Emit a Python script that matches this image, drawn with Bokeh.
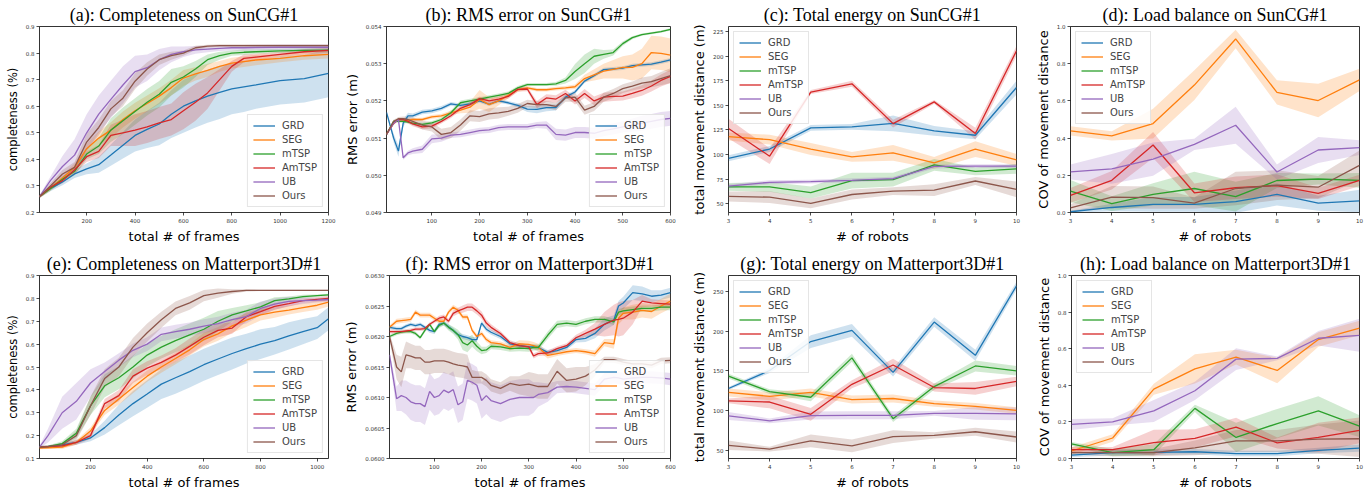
import numpy as np
from bokeh.plotting import figure
from bokeh.layouts import row, column
from bokeh.models import Legend, LegendItem, FixedTicker, NumeralTickFormatter, Range1d
from bokeh.embed import file_html
from bokeh.resources import INLINE

METHODS = ["GRD", "SEG", "mTSP", "AmTSP", "UB", "Ours"]
COLORS = ["#1f77b4", "#ff7f0e", "#2ca02c", "#d62728", "#9467bd", "#8c564b"]
ROBOTS = [3, 4, 5, 6, 7, 8, 9, 10]

# ---------------- (a) Completeness on SunCG#1 ----------------
A_X = [5, 50, 100, 150, 200, 250, 300, 350, 400, 450, 500, 550, 600, 650, 700, 750, 800, 850, 900, 1000, 1100, 1200]
A_GRD = [0.260, 0.290, 0.315, 0.345, 0.364, 0.380, 0.416, 0.453, 0.490, 0.513, 0.533, 0.570, 0.600, 0.620, 0.638, 0.652, 0.665, 0.673, 0.680, 0.696, 0.704, 0.724]
A_GRD_B = [0.005, 0.010, 0.012, 0.015, 0.020, 0.030, 0.040, 0.050, 0.060, 0.070, 0.080, 0.090, 0.100, 0.100, 0.100, 0.100, 0.095, 0.095, 0.090, 0.090, 0.090, 0.090]
A_SEG = [0.260, 0.290, 0.330, 0.370, 0.440, 0.480, 0.510, 0.550, 0.583, 0.610, 0.638, 0.670, 0.706, 0.722, 0.735, 0.750, 0.762, 0.768, 0.774, 0.780, 0.790, 0.795]
A_SEG_B = [0.005, 0.008, 0.010, 0.015, 0.020, 0.025, 0.030, 0.030, 0.030, 0.030, 0.030, 0.030, 0.030, 0.025, 0.025, 0.020, 0.020, 0.020, 0.020, 0.015, 0.015, 0.015]
A_MTSP = [0.260, 0.290, 0.325, 0.355, 0.420, 0.450, 0.510, 0.545, 0.580, 0.615, 0.645, 0.690, 0.710, 0.740, 0.775, 0.790, 0.800, 0.803, 0.805, 0.808, 0.810, 0.811]
A_MTSP_B = [0.005, 0.008, 0.010, 0.015, 0.020, 0.030, 0.045, 0.050, 0.050, 0.050, 0.050, 0.050, 0.040, 0.030, 0.020, 0.015, 0.010, 0.010, 0.008, 0.008, 0.008, 0.008]
A_AMTSP = [0.260, 0.295, 0.320, 0.360, 0.410, 0.430, 0.490, 0.500, 0.510, 0.522, 0.537, 0.550, 0.583, 0.615, 0.650, 0.700, 0.750, 0.780, 0.785, 0.795, 0.805, 0.810]
A_AMTSP_B = [0.005, 0.008, 0.010, 0.015, 0.020, 0.025, 0.040, 0.050, 0.060, 0.060, 0.060, 0.060, 0.070, 0.070, 0.060, 0.040, 0.020, 0.015, 0.012, 0.010, 0.010, 0.010]
A_UB = [0.260, 0.320, 0.373, 0.416, 0.500, 0.570, 0.626, 0.680, 0.730, 0.745, 0.775, 0.795, 0.805, 0.812, 0.815, 0.818, 0.820, 0.820, 0.821, 0.822, 0.822, 0.822]
A_UB_B = [0.005, 0.015, 0.040, 0.060, 0.070, 0.070, 0.070, 0.070, 0.060, 0.050, 0.040, 0.030, 0.020, 0.015, 0.012, 0.010, 0.010, 0.010, 0.010, 0.010, 0.010, 0.010]
A_OURS = [0.260, 0.300, 0.345, 0.370, 0.465, 0.520, 0.590, 0.630, 0.694, 0.740, 0.775, 0.790, 0.800, 0.820, 0.826, 0.828, 0.828, 0.828, 0.828, 0.828, 0.828, 0.828]
A_OURS_B = [0.005, 0.010, 0.015, 0.020, 0.030, 0.030, 0.030, 0.030, 0.030, 0.025, 0.020, 0.015, 0.010, 0.008, 0.005, 0.005, 0.005, 0.005, 0.005, 0.005, 0.005, 0.005]

# ---------------- (b) RMS error on SunCG#1 ----------------
B_X = [5, 20, 30, 40, 50, 60, 80, 100, 120, 140, 160, 180, 200, 220, 240, 260, 280, 300, 320, 340, 360, 380, 400, 420, 440, 460, 480, 500, 520, 540, 560, 580, 600]
B_GRD = [0.05169, 0.05100, 0.05065, 0.05140, 0.05160, 0.05160, 0.05170,
         0.05173, 0.05180, 0.05192, 0.05188, 0.05192, 0.05200, 0.05191, 0.05200, 0.05195, 0.05188,
         0.05178, 0.05177, 0.05182, 0.05182, 0.05210, 0.05224, 0.05253, 0.05268, 0.05284, 0.05286,
         0.05288, 0.05295, 0.05297, 0.05299, 0.05304, 0.05310]
B_GRD_B = [0.00002, 0.00012, 0.00015, 0.00010, 0.00008, 0.00006, 0.00006,
           0.00006, 0.00006, 0.00005, 0.00005, 0.00005, 0.00005, 0.00005, 0.00005, 0.00005, 0.00006,
           0.00008, 0.00010, 0.00010, 0.00008, 0.00006, 0.00005, 0.00005, 0.00005, 0.00005, 0.00005,
           0.00005, 0.00005, 0.00005, 0.00005, 0.00005, 0.00005]
B_SEG = [0.05112, 0.05140, 0.05151, 0.05150, 0.05148, 0.05150, 0.05150,
         0.05157, 0.05160, 0.05168, 0.05175, 0.05183, 0.05204, 0.05190, 0.05200, 0.05215, 0.05230,
         0.05235, 0.05230, 0.05230, 0.05233, 0.05235, 0.05238, 0.05260, 0.05270, 0.05280, 0.05285,
         0.05290, 0.05290, 0.05300, 0.05330, 0.05328, 0.05323]
B_SEG_B = [0.00003, 0.00004, 0.00004, 0.00004, 0.00004, 0.00005, 0.00005,
           0.00005, 0.00005, 0.00006, 0.00008, 0.00015, 0.00025, 0.00020, 0.00012, 0.00008, 0.00006,
           0.00005, 0.00005, 0.00005, 0.00005, 0.00005, 0.00006, 0.00010, 0.00015, 0.00020, 0.00025,
           0.00030, 0.00035, 0.00040, 0.00045, 0.00045, 0.00045]
B_MTSP = [0.05110, 0.05145, 0.05145, 0.05145, 0.05143, 0.05140, 0.05137,
          0.05141, 0.05150, 0.05168, 0.05195, 0.05200, 0.05205, 0.05210, 0.05215, 0.05220, 0.05235,
          0.05244, 0.05244, 0.05244, 0.05246, 0.05255, 0.05279, 0.05300, 0.05320, 0.05325, 0.05330,
          0.05354, 0.05370, 0.05378, 0.05382, 0.05386, 0.05392]
B_MTSP_B = [0.00003, 0.00004, 0.00004, 0.00004, 0.00004, 0.00004, 0.00004,
            0.00005, 0.00005, 0.00006, 0.00006, 0.00006, 0.00005, 0.00005, 0.00005, 0.00005, 0.00005,
            0.00004, 0.00004, 0.00004, 0.00005, 0.00008, 0.00020, 0.00025, 0.00020, 0.00012, 0.00008,
            0.00006, 0.00004, 0.00003, 0.00003, 0.00003, 0.00003]
B_AMTSP = [0.05110, 0.05140, 0.05150, 0.05150, 0.05145, 0.05138, 0.05130,
           0.05132, 0.05145, 0.05160, 0.05180, 0.05190, 0.05206, 0.05200, 0.05205, 0.05212, 0.05231,
           0.05232, 0.05190, 0.05208, 0.05205, 0.05220, 0.05200, 0.05220, 0.05200, 0.05210, 0.05212,
           0.05213, 0.05220, 0.05228, 0.05240, 0.05255, 0.05266]
B_AMTSP_B = [0.00003, 0.00004, 0.00004, 0.00005, 0.00006, 0.00006, 0.00006,
             0.00006, 0.00006, 0.00006, 0.00006, 0.00006, 0.00006, 0.00006, 0.00006, 0.00006, 0.00006,
             0.00006, 0.00010, 0.00010, 0.00010, 0.00010, 0.00010, 0.00012, 0.00012, 0.00012, 0.00012,
             0.00012, 0.00013, 0.00014, 0.00015, 0.00016, 0.00018]
B_UB = [0.05110, 0.05140, 0.05150, 0.05047, 0.05060, 0.05065, 0.05070,
        0.05098, 0.05100, 0.05108, 0.05110, 0.05115, 0.05120, 0.05122, 0.05128, 0.05130, 0.05130,
        0.05130, 0.05135, 0.05135, 0.05110, 0.05108, 0.05115, 0.05115, 0.05113, 0.05120, 0.05125,
        0.05130, 0.05135, 0.05140, 0.05145, 0.05150, 0.05153]
B_UB_B = [0.00003, 0.00004, 0.00004, 0.00005, 0.00006, 0.00008, 0.00010,
          0.00012, 0.00010, 0.00008, 0.00008, 0.00008, 0.00008, 0.00008, 0.00008, 0.00008, 0.00008,
          0.00008, 0.00008, 0.00010, 0.00015, 0.00015, 0.00015, 0.00015, 0.00015, 0.00015, 0.00015,
          0.00015, 0.00018, 0.00020, 0.00020, 0.00020, 0.00020]
B_OURS = [0.05110, 0.05145, 0.05152, 0.05152, 0.05150, 0.05145, 0.05135,
          0.05130, 0.05110, 0.05115, 0.05135, 0.05160, 0.05158, 0.05165, 0.05168, 0.05172, 0.05180,
          0.05193, 0.05190, 0.05190, 0.05185, 0.05208, 0.05210, 0.05175, 0.05185, 0.05210, 0.05220,
          0.05233, 0.05240, 0.05248, 0.05252, 0.05260, 0.05268]
B_OURS_B = [0.00003, 0.00004, 0.00005, 0.00006, 0.00008, 0.00010, 0.00012,
            0.00012, 0.00015, 0.00015, 0.00015, 0.00015, 0.00015, 0.00015, 0.00015, 0.00012, 0.00012,
            0.00010, 0.00010, 0.00010, 0.00010, 0.00010, 0.00012, 0.00012, 0.00012, 0.00012, 0.00012,
            0.00012, 0.00012, 0.00015, 0.00015, 0.00018, 0.00020]

# ---------------- (c) Total energy on SunCG#1 ----------------
C_GRD = [96.1, 105.5, 127.0, 128.0, 131.6, 124.0, 119.5, 168.0]
C_GRD_B = [3, 3, 3, 3, 8, 5, 4, 7]
C_SEG = [118.2, 115.0, 105.5, 97.5, 101.5, 91.5, 105.5, 94.5]
C_SEG_B = [4, 5, 6, 5, 8, 6, 8, 6]
C_MTSP = [67.0, 67.0, 61.3, 73.4, 74.4, 89.4, 82.8, 85.4]
C_MTSP_B = [4, 5, 6, 8, 7, 6, 4, 5]
C_AMTSP = [126.3, 98.2, 163.4, 171.8, 131.3, 153.4, 121.2, 205.3]
C_AMTSP_B = [10, 8, 2, 3, 4, 2, 6, 5]
C_UB = [67.7, 71.7, 72.4, 73.7, 75.4, 87.8, 88.1, 88.1]
C_UB_B = [2, 2, 2, 2, 2, 2, 2, 2]
C_OURS = [57.3, 56.6, 50.3, 59.3, 62.7, 63.7, 73.0, 64.4]
C_OURS_B = [5, 6, 5, 5, 4, 6, 4, 8]

# ---------------- (d) Load balance on SunCG#1 ----------------
D_GRD = [0.004, 0.027, 0.044, 0.044, 0.058, 0.097, 0.050, 0.062]
D_GRD_B = [0.005, 0.02, 0.04, 0.04, 0.06, 0.06, 0.04, 0.06]
D_SEG = [0.439, 0.412, 0.478, 0.685, 0.933, 0.646, 0.602, 0.713]
D_SEG_B = [0.025, 0.025, 0.08, 0.08, 0.05, 0.065, 0.09, 0.06]
D_MTSP = [0.115, 0.048, 0.097, 0.129, 0.085, 0.172, 0.180, 0.173]
D_MTSP_B = [0.06, 0.04, 0.06, 0.09, 0.08, 0.04, 0.03, 0.04]
D_AMTSP = [0.092, 0.173, 0.363, 0.106, 0.133, 0.145, 0.103, 0.173]
D_AMTSP_B = [0.04, 0.05, 0.07, 0.05, 0.06, 0.06, 0.03, 0.03]
D_UB = [0.218, 0.234, 0.287, 0.366, 0.469, 0.218, 0.336, 0.349]
D_UB_B = [0.04, 0.08, 0.09, 0.03, 0.10, 0.04, 0.07, 0.04]
D_OURS = [0.025, 0.083, 0.080, 0.050, 0.129, 0.147, 0.136, 0.253]
D_OURS_B = [0.02, 0.06, 0.06, 0.03, 0.09, 0.08, 0.06, 0.08]

# ---------------- (e) Completeness on Matterport3D#1 ----------------
E_X = [20, 50, 100, 150, 200, 250, 300, 350, 400, 450, 500, 550, 600, 650, 700, 750, 800, 850, 900, 950, 1000, 1040]
E_GRD = [0.150, 0.152, 0.160, 0.170, 0.190, 0.235, 0.290, 0.340, 0.382, 0.425, 0.453, 0.480, 0.510, 0.535, 0.559, 0.580, 0.600, 0.615, 0.636, 0.655, 0.672, 0.711]
E_GRD_B = [0.005, 0.005, 0.008, 0.010, 0.015, 0.030, 0.045, 0.055, 0.060, 0.065, 0.070, 0.070, 0.070, 0.070, 0.070, 0.065, 0.065, 0.060, 0.060, 0.055, 0.050, 0.050]
E_SEG = [0.145, 0.147, 0.150, 0.170, 0.220, 0.310, 0.360, 0.410, 0.460, 0.500, 0.537, 0.575, 0.620, 0.645, 0.680, 0.705, 0.728, 0.740, 0.749, 0.760, 0.770, 0.784]
E_SEG_B = [0.005, 0.005, 0.008, 0.010, 0.015, 0.020, 0.025, 0.025, 0.025, 0.025, 0.025, 0.025, 0.030, 0.030, 0.030, 0.030, 0.025, 0.025, 0.020, 0.020, 0.020, 0.020]
E_MTSP = [0.150, 0.152, 0.165, 0.210, 0.330, 0.418, 0.453, 0.500, 0.552, 0.587, 0.615, 0.640, 0.665, 0.700, 0.728, 0.745, 0.763, 0.790, 0.798, 0.808, 0.812, 0.815]
E_MTSP_B = [0.005, 0.005, 0.010, 0.020, 0.040, 0.050, 0.050, 0.050, 0.050, 0.050, 0.050, 0.050, 0.050, 0.045, 0.030, 0.025, 0.020, 0.015, 0.010, 0.008, 0.005, 0.005]
E_AMTSP = [0.150, 0.152, 0.155, 0.170, 0.200, 0.340, 0.375, 0.460, 0.495, 0.520, 0.552, 0.590, 0.630, 0.660, 0.670, 0.720, 0.742, 0.765, 0.777, 0.790, 0.796, 0.800]
E_AMTSP_B = [0.005, 0.005, 0.008, 0.010, 0.015, 0.020, 0.025, 0.030, 0.030, 0.030, 0.030, 0.035, 0.035, 0.030, 0.025, 0.020, 0.015, 0.015, 0.012, 0.010, 0.010, 0.010]
E_UB = [0.150, 0.200, 0.300, 0.350, 0.430, 0.480, 0.530, 0.573, 0.600, 0.643, 0.655, 0.665, 0.679, 0.690, 0.707, 0.720, 0.756, 0.775, 0.787, 0.790, 0.792, 0.795]
E_UB_B = [0.005, 0.030, 0.070, 0.080, 0.060, 0.040, 0.030, 0.030, 0.030, 0.030, 0.030, 0.030, 0.030, 0.030, 0.030, 0.030, 0.030, 0.025, 0.020, 0.015, 0.010, 0.010]
E_OURS = [0.150, 0.152, 0.160, 0.200, 0.330, 0.450, 0.500, 0.587, 0.650, 0.707, 0.756, 0.780, 0.812, 0.823, 0.830, 0.835, 0.835, 0.835, 0.835, 0.835, 0.835, 0.835]
E_OURS_B = [0.005, 0.005, 0.008, 0.020, 0.040, 0.040, 0.040, 0.040, 0.040, 0.035, 0.030, 0.030, 0.025, 0.020, 0.010, 0.005, 0.003, 0.003, 0.003, 0.003, 0.003, 0.003]

# ---------------- (f) RMS error on Matterport3D#1 ----------------
F_X = [5, 20, 30, 40, 50, 60, 70, 80, 90, 100,
       110, 120, 130, 140, 150, 160, 170, 180, 190, 200,
       210, 220, 240, 260, 280, 300, 310, 320, 340, 360,
       380, 400, 420, 440, 460, 480, 490, 500, 520, 540,
       560, 580, 600]
F_GRD = [0.06215, 0.06213, 0.06213, 0.06217, 0.06220, 0.06218, 0.06220, 0.06215, 0.06210, 0.06208,
         0.06220, 0.06222, 0.06216, 0.06210, 0.06203, 0.06200, 0.06198, 0.06195, 0.06195, 0.06222,
         0.06212, 0.06207, 0.06200, 0.06188, 0.06185, 0.06183, 0.06183, 0.06182, 0.06174, 0.06177,
         0.06182, 0.06195, 0.06197, 0.06205, 0.06220, 0.06227, 0.06250, 0.06255, 0.06272, 0.06270,
         0.06266, 0.06268, 0.06272]
F_GRD_B = [0.00003, 0.00003, 0.00003, 0.00003, 0.00003, 0.00003, 0.00003, 0.00003, 0.00004, 0.00004,
           0.00004, 0.00004, 0.00004, 0.00004, 0.00004, 0.00004, 0.00004, 0.00004, 0.00004, 0.00004,
           0.00004, 0.00004, 0.00004, 0.00004, 0.00004, 0.00004, 0.00004, 0.00004, 0.00004, 0.00004,
           0.00004, 0.00005, 0.00006, 0.00008, 0.00010, 0.00008, 0.00008, 0.00010, 0.00012, 0.00012,
           0.00010, 0.00008, 0.00008]
F_SEG = [0.06215, 0.06225, 0.06226, 0.06227, 0.06228, 0.06240, 0.06235, 0.06235, 0.06235, 0.06230,
         0.06225, 0.06225, 0.06240, 0.06248, 0.06243, 0.06232, 0.06232, 0.06210, 0.06200, 0.06205,
         0.06195, 0.06190, 0.06188, 0.06182, 0.06188, 0.06187, 0.06185, 0.06182, 0.06169, 0.06172,
         0.06175, 0.06177, 0.06175, 0.06172, 0.06190, 0.06188, 0.06230, 0.06238, 0.06240, 0.06243,
         0.06241, 0.06250, 0.06258]
F_SEG_B = [0.00003, 0.00004, 0.00004, 0.00004, 0.00004, 0.00004, 0.00004, 0.00004, 0.00004, 0.00004,
           0.00004, 0.00004, 0.00004, 0.00004, 0.00004, 0.00004, 0.00004, 0.00004, 0.00004, 0.00004,
           0.00004, 0.00004, 0.00004, 0.00005, 0.00006, 0.00006, 0.00006, 0.00006, 0.00005, 0.00004,
           0.00004, 0.00004, 0.00004, 0.00005, 0.00006, 0.00008, 0.00010, 0.00010, 0.00012, 0.00012,
           0.00012, 0.00012, 0.00012]
F_MTSP = [0.06200, 0.06205, 0.06207, 0.06208, 0.06208, 0.06205, 0.06198, 0.06210, 0.06220, 0.06208,
          0.06218, 0.06222, 0.06215, 0.06210, 0.06203, 0.06190, 0.06186, 0.06193, 0.06184, 0.06177,
          0.06178, 0.06184, 0.06183, 0.06180, 0.06181, 0.06180, 0.06182, 0.06182, 0.06202, 0.06220,
          0.06222, 0.06220, 0.06225, 0.06228, 0.06228, 0.06224, 0.06240, 0.06242, 0.06244, 0.06246,
          0.06246, 0.06248, 0.06248]
F_MTSP_B = [0.00003, 0.00003, 0.00003, 0.00003, 0.00003, 0.00003, 0.00003, 0.00003, 0.00003, 0.00003,
            0.00004, 0.00004, 0.00005, 0.00006, 0.00008, 0.00012, 0.00012, 0.00010, 0.00008, 0.00006,
            0.00005, 0.00005, 0.00005, 0.00005, 0.00005, 0.00005, 0.00005, 0.00005, 0.00006, 0.00006,
            0.00005, 0.00005, 0.00005, 0.00005, 0.00005, 0.00005, 0.00005, 0.00005, 0.00005, 0.00005,
            0.00005, 0.00005, 0.00005]
F_AMTSP = [0.06208, 0.06208, 0.06208, 0.06209, 0.06210, 0.06212, 0.06212, 0.06213, 0.06220, 0.06225,
           0.06230, 0.06232, 0.06225, 0.06238, 0.06242, 0.06245, 0.06248, 0.06248, 0.06242, 0.06235,
           0.06222, 0.06215, 0.06205, 0.06190, 0.06185, 0.06183, 0.06168, 0.06172, 0.06173, 0.06180,
           0.06185, 0.06198, 0.06205, 0.06212, 0.06220, 0.06227, 0.06228, 0.06230, 0.06240, 0.06258,
           0.06255, 0.06254, 0.06253]
F_AMTSP_B = [0.00003, 0.00003, 0.00003, 0.00003, 0.00003, 0.00003, 0.00003, 0.00003, 0.00003, 0.00003,
             0.00004, 0.00004, 0.00004, 0.00005, 0.00005, 0.00006, 0.00006, 0.00006, 0.00006, 0.00006,
             0.00006, 0.00005, 0.00004, 0.00004, 0.00004, 0.00004, 0.00004, 0.00004, 0.00004, 0.00004,
             0.00004, 0.00005, 0.00006, 0.00010, 0.00020, 0.00025, 0.00028, 0.00028, 0.00020, 0.00010,
             0.00006, 0.00006, 0.00006]
F_UB = [0.06170, 0.06098, 0.06103, 0.06100, 0.06093, 0.06090, 0.06090, 0.06085, 0.06110, 0.06100,
        0.06103, 0.06112, 0.06108, 0.06113, 0.06088, 0.06093, 0.06128, 0.06125, 0.06120, 0.06095,
        0.06103, 0.06095, 0.06090, 0.06097, 0.06100, 0.06100, 0.06100, 0.06105, 0.06108, 0.06117,
        0.06118, 0.06117, 0.06115, 0.06113, 0.06130, 0.06133, 0.06132, 0.06130, 0.06132, 0.06133,
        0.06133, 0.06132, 0.06130]
F_UB_B = [0.00005, 0.00020, 0.00025, 0.00028, 0.00030, 0.00030, 0.00030, 0.00030, 0.00030, 0.00030,
          0.00030, 0.00030, 0.00030, 0.00030, 0.00030, 0.00030, 0.00030, 0.00030, 0.00030, 0.00030,
          0.00030, 0.00030, 0.00030, 0.00030, 0.00030, 0.00030, 0.00025, 0.00020, 0.00015, 0.00010,
          0.00010, 0.00010, 0.00010, 0.00010, 0.00010, 0.00010, 0.00010, 0.00010, 0.00010, 0.00010,
          0.00010, 0.00010, 0.00010]
F_OURS = [0.06200, 0.06150, 0.06142, 0.06170, 0.06168, 0.06165, 0.06165, 0.06158, 0.06158, 0.06160,
          0.06160, 0.06160, 0.06158, 0.06155, 0.06153, 0.06152, 0.06150, 0.06133, 0.06133, 0.06133,
          0.06128, 0.06120, 0.06115, 0.06123, 0.06120, 0.06122, 0.06120, 0.06118, 0.06118, 0.06143,
          0.06128, 0.06130, 0.06135, 0.06145, 0.06162, 0.06162, 0.06160, 0.06158, 0.06155, 0.06155,
          0.06153, 0.06160, 0.06161]
F_OURS_B = [0.00005, 0.00020, 0.00025, 0.00022, 0.00020, 0.00020, 0.00020, 0.00020, 0.00020, 0.00020,
            0.00020, 0.00020, 0.00020, 0.00020, 0.00020, 0.00020, 0.00020, 0.00012, 0.00010, 0.00010,
            0.00010, 0.00010, 0.00010, 0.00012, 0.00015, 0.00020, 0.00020, 0.00020, 0.00020, 0.00020,
            0.00020, 0.00020, 0.00015, 0.00010, 0.00005, 0.00005, 0.00005, 0.00005, 0.00005, 0.00005,
            0.00005, 0.00005, 0.00005]

# ---------------- (g) Total energy on Matterport3D#1 ----------------
G_GRD = [128.0, 150.6, 187.0, 201.0, 148.2, 211.5, 169.7, 257.0]
G_GRD_B = [2, 3, 8, 8, 5, 6, 7, 5]
G_SEG = [123.0, 118.2, 123.0, 114.1, 115.4, 109.0, 105.6, 100.4]
G_SEG_B = [5, 5, 5, 5, 5, 4, 4, 4]
G_MTSP = [143.4, 124.0, 117.0, 166.5, 90.0, 130.4, 156.3, 150.2]
G_MTSP_B = [3, 3, 5, 5, 4, 4, 7, 6]
G_AMTSP = [112.5, 111.0, 95.5, 133.2, 157.5, 129.2, 128.0, 136.8]
G_AMTSP_B = [3, 8, 8, 5, 8, 5, 8, 6]
G_UB = [93.5, 87.4, 94.0, 94.3, 94.3, 96.7, 96.7, 96.0]
G_UB_B = [5, 3, 5, 5, 5, 3, 8, 8]
G_OURS = [56.6, 51.7, 62.2, 55.8, 67.5, 69.1, 73.6, 67.0]
G_OURS_B = [6, 3, 8, 8, 8, 4, 5, 7]

# ---------------- (h) Load balance on Matterport3D#1 ----------------
H_GRD = [0.018, 0.032, 0.034, 0.037, 0.027, 0.027, 0.044, 0.057]
H_GRD_B = [0.01, 0.015, 0.015, 0.015, 0.015, 0.015, 0.015, 0.02]
H_SEG = [0.041, 0.112, 0.379, 0.490, 0.554, 0.481, 0.650, 0.713]
H_SEG_B = [0.02, 0.02, 0.03, 0.08, 0.04, 0.07, 0.04, 0.04]
H_MTSP = [0.080, 0.032, 0.048, 0.274, 0.115, 0.191, 0.260, 0.177]
H_MTSP_B = [0.01, 0.02, 0.03, 0.02, 0.08, 0.08, 0.08, 0.06]
H_AMTSP = [0.048, 0.048, 0.087, 0.110, 0.172, 0.085, 0.115, 0.154]
H_AMTSP_B = [0.015, 0.015, 0.07, 0.05, 0.05, 0.03, 0.08, 0.07]
H_UB = [0.186, 0.200, 0.260, 0.370, 0.543, 0.547, 0.657, 0.673]
H_UB_B = [0.03, 0.02, 0.06, 0.05, 0.06, 0.01, 0.04, 0.09]
H_OURS = [0.032, 0.032, 0.032, 0.058, 0.096, 0.096, 0.106, 0.108]
H_OURS_B = [0.01, 0.02, 0.02, 0.04, 0.06, 0.06, 0.08, 0.10]

FRAME_TICKS_1200 = [200, 400, 600, 800, 1000, 1200]
FRAME_TICKS_600 = [100, 200, 300, 400, 500, 600]
FRAME_TICKS_1000 = [200, 400, 600, 800, 1000]


def build(x, series, bands, xr, yr, xticks, yticks, yfmt, xlabel, ylabel, ylsize,
          title, loc, bl, br, bt, bb):
    p = figure(width=341, height=246, output_backend="svg", toolbar_location=None,
               x_range=Range1d(xr[0], xr[1]), y_range=Range1d(yr[0], yr[1]),
               min_border_left=bl, min_border_right=br, min_border_top=bt, min_border_bottom=bb)
    p.title.text = title
    p.title.text_font = "Liberation Serif"
    p.title.text_font_size = "18px"
    p.title.text_font_style = "normal"
    p.title.text_color = "black"
    p.title.align = "center"
    p.title.standoff = 3
    p.xgrid.visible = False
    p.ygrid.visible = False
    p.outline_line_color = "black"
    p.outline_line_width = 0.8
    p.outline_line_alpha = 1.0
    xs = np.array(x, dtype=float)
    for c, y, hw in zip(COLORS, series, bands):
        ya = np.array(y, dtype=float)
        ha = np.array(hw, dtype=float)
        p.varea(x=xs, y1=ya - ha, y2=ya + ha, fill_color=c, fill_alpha=0.22)
    items = []
    for name, c, y in zip(METHODS, COLORS, series):
        r = p.line(xs, np.array(y, dtype=float), line_color=c, line_width=1.3)
        items.append(LegendItem(label=name, renderers=[r]))
    leg = Legend(items=items, location=loc, label_text_font="DejaVu Sans",
                 label_text_font_size="10px", glyph_width=22, glyph_height=11,
                 label_height=11, label_standoff=7, spacing=3, padding=5, margin=5,
                 border_line_color="#cccccc", border_line_width=1,
                 background_fill_color="white", background_fill_alpha=0.85)
    p.add_layout(leg)

    for ax in (p.xaxis[0], p.yaxis[0]):
        ax.axis_line_color = None
        ax.major_tick_out = 3
        ax.major_tick_in = 0
        ax.major_tick_line_color = "black"
        ax.major_tick_line_width = 0.7
        ax.minor_tick_line_color = None
        ax.major_label_text_font = "DejaVu Sans"
        ax.major_label_text_font_size = "5.5px"
        ax.major_label_text_color = "#333333"
        ax.major_label_standoff = 2
        ax.axis_label_text_font = "DejaVu Sans"
        ax.axis_label_text_font_style = "normal"
        ax.axis_label_text_color = "black"
        ax.axis_label_standoff = 3
    p.xaxis[0].ticker = FixedTicker(ticks=xticks)
    p.xaxis[0].formatter = NumeralTickFormatter(format="0")
    p.yaxis[0].ticker = FixedTicker(ticks=yticks)
    p.yaxis[0].formatter = NumeralTickFormatter(format=yfmt)
    p.xaxis[0].axis_label = xlabel
    p.xaxis[0].axis_label_text_font_size = "13px"
    p.yaxis[0].axis_label = ylabel
    p.yaxis[0].axis_label_text_font_size = ylsize
    return p


pa = build(A_X, [A_GRD, A_SEG, A_MTSP, A_AMTSP, A_UB, A_OURS],
           [A_GRD_B, A_SEG_B, A_MTSP_B, A_AMTSP_B, A_UB_B, A_OURS_B],
           (5, 1200), (0.2, 0.9), FRAME_TICKS_1200, [0.2, 0.3, 0.4, 0.5, 0.6, 0.7, 0.8, 0.9], "0.0",
           "total # of frames", "completeness (%)", "11.5px",
           "(a): Completeness on SunCG#1", "bottom_right", 39, 13, 26, 31)
pb = build(B_X, [B_GRD, B_SEG, B_MTSP, B_AMTSP, B_UB, B_OURS],
           [B_GRD_B, B_SEG_B, B_MTSP_B, B_AMTSP_B, B_UB_B, B_OURS_B],
           (5, 600), (0.049, 0.054), FRAME_TICKS_600, [0.049, 0.050, 0.051, 0.052, 0.053, 0.054], "0.000",
           "total # of frames", "RMS error (m)", "13px",
           "(b): RMS error on SunCG#1", "bottom_right", 41, 12, 26, 31)
pc = build(ROBOTS, [C_GRD, C_SEG, C_MTSP, C_AMTSP, C_UB, C_OURS],
           [C_GRD_B, C_SEG_B, C_MTSP_B, C_AMTSP_B, C_UB_B, C_OURS_B],
           (3, 10), (41, 230), ROBOTS, [50, 75, 100, 125, 150, 175, 200, 225], "0",
           "# of robots", "total movement distance (m)", "13px",
           "(c): Total energy on SunCG#1", "top_left", 46, 7, 26, 31)
pd_ = build(ROBOTS, [D_GRD, D_SEG, D_MTSP, D_AMTSP, D_UB, D_OURS],
            [D_GRD_B, D_SEG_B, D_MTSP_B, D_AMTSP_B, D_UB_B, D_OURS_B],
            (3, 10), (0.0, 1.0), ROBOTS, [0.0, 0.2, 0.4, 0.6, 0.8, 1.0], "0.0",
            "# of robots", "COV of movement distance", "13px",
            "(d): Load balance on SunCG#1", "top_left", 47, 5, 26, 31)
pe = build(E_X, [E_GRD, E_SEG, E_MTSP, E_AMTSP, E_UB, E_OURS],
           [E_GRD_B, E_SEG_B, E_MTSP_B, E_AMTSP_B, E_UB_B, E_OURS_B],
           (20, 1040), (0.1, 0.9), FRAME_TICKS_1000, [0.1, 0.2, 0.3, 0.4, 0.5, 0.6, 0.7, 0.8, 0.9], "0.0",
           "total # of frames", "completeness (%)", "11.5px",
           "(e): Completeness on Matterport3D#1", "bottom_right", 39, 13, 29, 28)
pf = build(F_X, [F_GRD, F_SEG, F_MTSP, F_AMTSP, F_UB, F_OURS],
           [F_GRD_B, F_SEG_B, F_MTSP_B, F_AMTSP_B, F_UB_B, F_OURS_B],
           (5, 600), (0.0600, 0.0630), FRAME_TICKS_600,
           [0.0600, 0.0605, 0.0610, 0.0615, 0.0620, 0.0625, 0.0630], "0.0000",
           "total # of frames", "RMS error (m)", "13px",
           "(f): RMS error on Matterport3D#1", "bottom_right", 41, 12, 29, 28)
pg = build(ROBOTS, [G_GRD, G_SEG, G_MTSP, G_AMTSP, G_UB, G_OURS],
           [G_GRD_B, G_SEG_B, G_MTSP_B, G_AMTSP_B, G_UB_B, G_OURS_B],
           (3, 10), (40, 270), ROBOTS, [50, 100, 150, 200, 250], "0",
           "# of robots", "total movement distance (m)", "13px",
           "(g): Total energy on Matterport3D#1", "top_left", 46, 7, 29, 28)
ph = build(ROBOTS, [H_GRD, H_SEG, H_MTSP, H_AMTSP, H_UB, H_OURS],
           [H_GRD_B, H_SEG_B, H_MTSP_B, H_AMTSP_B, H_UB_B, H_OURS_B],
           (3, 10), (0.0, 1.0), ROBOTS, [0.0, 0.2, 0.4, 0.6, 0.8, 1.0], "0.0",
           "# of robots", "COV of movement distance", "13px",
           "(h): Load balance on Matterport3D#1", "top_left", 48, 5, 29, 28)

layout = column(row(pa, pb, pc, pd_), row(pe, pf, pg, ph))
open("out.html", "w").write(file_html(layout, INLINE))
